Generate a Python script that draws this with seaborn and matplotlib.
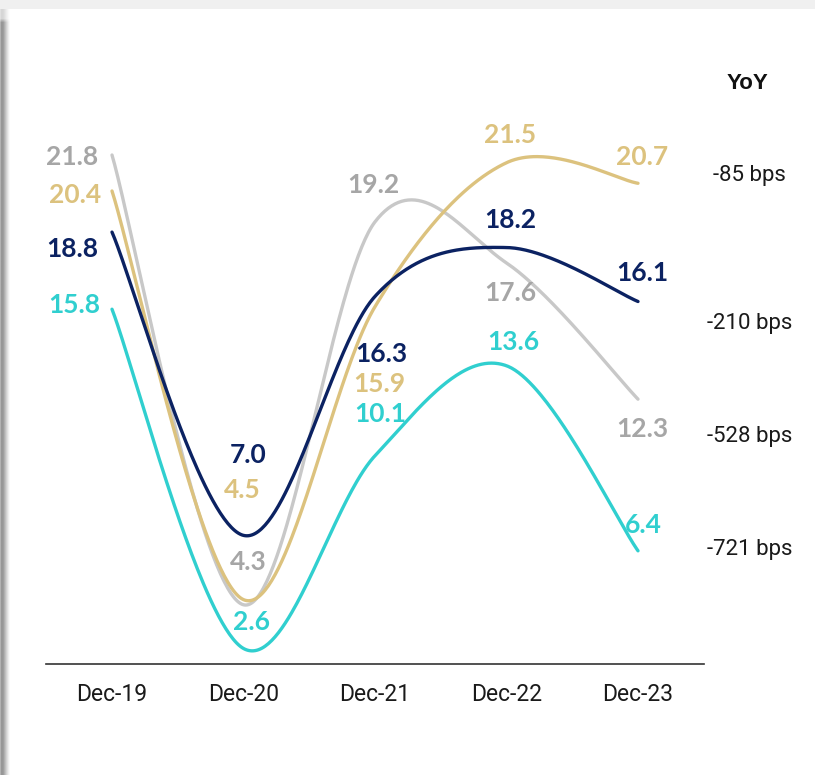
import numpy as np
import pandas as pd
import matplotlib
matplotlib.use("Agg")
import matplotlib.pyplot as plt
import matplotlib.transforms as mtransforms
from matplotlib.patches import Rectangle
import seaborn as sns

# ---- data -------------------------------------------------------------
periods = ["Dec-19", "Dec-20", "Dec-21", "Dec-22", "Dec-23"]
grey_vals = [21.8, 4.3, 19.2, 17.6, 12.3]
gold_vals = [20.4, 4.5, 15.9, 21.5, 20.7]
navy_vals = [18.8, 7.0, 16.3, 18.2, 16.1]
teal_vals = [15.8, 2.6, 10.1, 13.6, 6.4]
yoy_labels = ["-85 bps", "-210 bps", "-528 bps", "-721 bps"]

# ---- styling ------------------------------------------------------------
sns.set_theme(style="white")
plt.rcParams["font.family"] = ["Roboto", "DejaVu Sans"]

LINE_COL = {"grey": "#c8c8c8", "gold": "#dcc27e", "navy": "#0b2262", "teal": "#30cfcf"}
TEXT_COL = {"grey": "#a6a6a6", "gold": "#dcc27e", "navy": "#0b2262", "teal": "#30cfcf"}

# label offsets (pixels, right / down) relative to each point
label_offsets = {
    "grey": [(-40, 2), (5, -43), (-2, -37), (4, 30), (4, 30)],
    "gold": [(-37, 4), (-1, -110), (4, 77), (4, -28), (4, -26)],
    "navy": [(-40, 17), (5, -80), (6, 58), (4, -28), (4, -29)],
    "teal": [(-38, -4), (8, -26), (5, -42), (7, -24), (5, -26)],
}


def smooth_curve(xs, ys, n=80):
    """Bezier smoothing through every point (Catmull-Rom style control points)."""
    pts = np.column_stack([xs, ys]).astype(float)
    out = []
    for i in range(len(pts) - 1):
        p0 = pts[i - 1] if i > 0 else pts[i]
        p1, p2 = pts[i], pts[i + 1]
        p3 = pts[i + 2] if i + 2 < len(pts) else pts[i + 1]
        c1 = p1 + (p2 - p0) / 6.0
        c2 = p2 - (p3 - p1) / 6.0
        t = np.linspace(0, 1, n)[:, None]
        seg = ((1 - t) ** 3) * p1 + 3 * ((1 - t) ** 2) * t * c1 + 3 * (1 - t) * t ** 2 * c2 + t ** 3 * p2
        out.append(seg if i == 0 else seg[1:])
    return np.vstack(out)


W, H = 815, 775
fig = plt.figure(figsize=(W / 100, H / 100), dpi=100)
fig.patch.set_facecolor("white")

# page frame: light band on top, soft shadow on the left edge
fig.add_artist(Rectangle((0, 1 - 9 / H), 1, 9 / H, transform=fig.transFigure,
                         facecolor="#f0f0f0", edgecolor="none", zorder=0))
sh = fig.add_axes([0, 0, 11 / W, (H - 9) / H])
gx = np.linspace(0, 1, 11)
prof = np.interp(gx, [0, 0.12, 0.3, 0.6, 0.85, 1.0], [0.70, 0.57, 0.62, 0.82, 0.96, 1.0])
gy = np.linspace(0, 1, 200)
grid = 1 - (1 - prof[None, :]) * np.where(gy[:, None] > 0.985, 0.4, 1.0)
sh.imshow(grid, cmap="gray", vmin=0, vmax=1, aspect="auto", origin="lower", interpolation="bilinear")
sh.axis("off")

# main axes
y_lo, y_hi = 2.0, 25.0
ax_left, ax_w = 46.25 / W, 657.5 / W
ax_bottom = (H - 663.9) / H
ax_h = (663.9 - 72.76) / H
ax = fig.add_axes([ax_left, ax_bottom, ax_w, ax_h])
ax.set_facecolor("white")

x = np.arange(len(periods))
series = [("grey", grey_vals), ("teal", teal_vals), ("gold", gold_vals), ("navy", navy_vals)]
for z, (name, vals) in enumerate(series):
    curve = smooth_curve(x, vals)
    df = pd.DataFrame({"x": curve[:, 0], "y": curve[:, 1]})
    sns.lineplot(data=df, x="x", y="y", sort=False, estimator=None, ax=ax,
                 color=LINE_COL[name], linewidth=2.4, zorder=2 + z)

for name, vals in series:
    for i, v in enumerate(vals):
        dx, dy = label_offsets[name][i]
        ax.annotate(f"{v:.1f}", (x[i], v), xytext=(dx, -dy), textcoords="offset pixels",
                    ha="center", va="center", color=TEXT_COL[name],
                    fontsize=19, fontweight="bold", family=["Lato", "DejaVu Sans"],
                    zorder=10, annotation_clip=False)

ax.set_xlim(-0.5, 4.5)
ax.set_ylim(y_lo, y_hi)
ax.set_xticks(x)
ax.set_xticklabels(periods, fontsize=16.5, color="#1a1a1a")
ax.set_yticks([])
ax.set_xlabel("")
ax.set_ylabel("")
ax.tick_params(axis="x", length=0, pad=14)
for s in ["top", "left", "right"]:
    ax.spines[s].set_visible(False)
ax.spines["bottom"].set_color("#333333")
ax.spines["bottom"].set_linewidth(1.2)

# YoY change column on the right
tr = mtransforms.blended_transform_factory(ax.transAxes, ax.transData)
ax.text(1.067, 24.6, "YoY", transform=tr, ha="center", va="center",
        fontsize=16, fontweight="bold", color="#111111",
        family=["Liberation Sans", "DejaVu Sans"], clip_on=False)
for lab, yv in zip(yoy_labels, [21.02, 15.26, 10.83, 6.47]):
    ax.text(1.070, yv, lab, transform=tr, ha="center", va="center",
            fontsize=16, color="#1a1a1a", clip_on=False)

fig.savefig("out.png", dpi=100)
